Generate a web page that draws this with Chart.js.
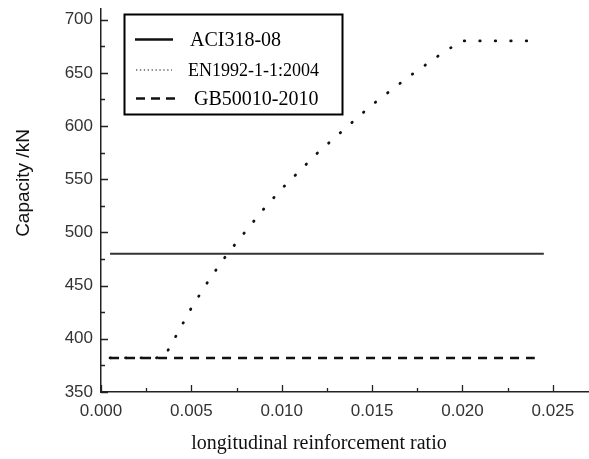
<!DOCTYPE html>
<html>
<head>
<meta charset="utf-8">
<title>Capacity vs longitudinal reinforcement ratio</title>
<script src="https://cdn.jsdelivr.net/npm/chart.js@4.4.1/dist/chart.umd.min.js"></script>
<style>
  html, body { margin: 0; padding: 0; background: #fff; }
  #chart { display: block; }
</style>
</head>
<body>
<canvas id="chart" width="589" height="459"></canvas>
<script>
// valores
const ratioACI = [0.0005, 0.0245];
const capACI = [480, 480];

const ratioEN = [0.0005, 0.001, 0.0015, 0.002, 0.0025, 0.003, 0.0035, 0.004,
                 0.005, 0.006, 0.007, 0.008, 0.009, 0.010, 0.011, 0.012, 0.013,
                 0.014, 0.015, 0.016, 0.017, 0.018, 0.019, 0.020, 0.021, 0.022,
                 0.023, 0.024];
const capEN = [382, 382, 382, 382, 382, 382, 383, 398,
               429, 456, 480, 501, 522, 541, 558, 575, 590,
               605, 620, 633, 646, 658, 670, 680, 680, 680,
               680, 680];

const ratioGB = [0.0005, 0.024];
const capGB = [382, 382];

const seriesNames = ['ACI318-08', 'EN1992-1-1:2004', 'GB50010-2010'];

// ticks dos eixos
const xTicks = [0, 0.005, 0.010, 0.015, 0.020, 0.025];
const xMinorTicks = [0.0025, 0.0075, 0.0125, 0.0175, 0.0225];
const yTicks = [350, 400, 450, 500, 550, 600, 650, 700];
const yMinorTicks = [375, 425, 475, 525, 575, 625, 675];

const xTitle = 'longitudinal reinforcement ratio';
const yTitle = 'Capacity /kN';

function toPoints(xs, ys) {
    return xs.map((x, i) => ({ x: x, y: ys[i] }));
}

// desenha ticks internos, títulos e a caixa de legenda
const extrasPlugin = {
    id: 'extras',
    afterDraw(chart) {
        const ctx = chart.ctx;
        const xs = chart.scales.x;
        const ys = chart.scales.y;
        const area = chart.chartArea;

        ctx.save();
        ctx.strokeStyle = '#222';
        ctx.lineWidth = 1.3;
        ctx.beginPath();
        yTicks.forEach(v => {
            const py = Math.round(ys.getPixelForValue(v)) + 0.5;
            ctx.moveTo(area.left, py); ctx.lineTo(area.left + 7, py);
        });
        yMinorTicks.forEach(v => {
            const py = Math.round(ys.getPixelForValue(v)) + 0.5;
            ctx.moveTo(area.left, py); ctx.lineTo(area.left + 4, py);
        });
        xTicks.forEach(v => {
            const px = Math.round(xs.getPixelForValue(v)) + 0.5;
            ctx.moveTo(px, area.bottom); ctx.lineTo(px, area.bottom - 7);
        });
        xMinorTicks.forEach(v => {
            const px = Math.round(xs.getPixelForValue(v)) + 0.5;
            ctx.moveTo(px, area.bottom); ctx.lineTo(px, area.bottom - 4);
        });
        ctx.stroke();

        // títulos
        ctx.fillStyle = '#111';
        ctx.textAlign = 'center';
        ctx.textBaseline = 'middle';
        ctx.font = '20px "Liberation Serif", "Times New Roman", serif';
        ctx.fillText(xTitle, 319, 444);

        ctx.save();
        ctx.translate(24, 183);
        ctx.rotate(-Math.PI / 2);
        ctx.font = '19px "Liberation Sans", Arial, sans-serif';
        ctx.fillText(yTitle, 0, 0);
        ctx.restore();

        // legenda
        ctx.fillStyle = '#fff';
        ctx.fillRect(124, 14, 219, 101);
        ctx.strokeStyle = '#000';
        ctx.lineWidth = 2;
        ctx.strokeRect(124.5, 14.5, 218, 100);

        ctx.strokeStyle = '#111';
        ctx.lineWidth = 2.6;
        ctx.setLineDash([]);
        ctx.beginPath(); ctx.moveTo(135, 39.5); ctx.lineTo(173, 39.5); ctx.stroke();

        ctx.lineWidth = 1.2;
        ctx.setLineDash([1.3, 2.6]);
        ctx.beginPath(); ctx.moveTo(136, 70); ctx.lineTo(172, 70); ctx.stroke();

        ctx.lineWidth = 2.6;
        ctx.setLineDash([9, 6]);
        ctx.beginPath(); ctx.moveTo(136, 98.5); ctx.lineTo(175, 98.5); ctx.stroke();
        ctx.setLineDash([]);

        ctx.fillStyle = '#000';
        ctx.textAlign = 'left';
        ctx.font = '20px "Liberation Serif", "Times New Roman", serif';
        ctx.fillText(seriesNames[0], 190, 41);
        ctx.font = '18px "Liberation Serif", "Times New Roman", serif';
        ctx.fillText(seriesNames[1], 188, 71);
        ctx.font = '20px "Liberation Serif", "Times New Roman", serif';
        ctx.fillText(seriesNames[2], 194, 100);
        ctx.restore();
    }
};

const tickFont = { family: '"Liberation Sans", Arial, sans-serif', size: 17 };

const config = {
    type: 'line',
    data: {
        datasets: [
            {
                label: seriesNames[0],
                data: toPoints(ratioACI, capACI),
                borderColor: '#333',
                borderWidth: 2,
                pointRadius: 0
            },
            {
                label: seriesNames[1],
                data: toPoints(ratioEN, capEN),
                borderColor: '#111',
                borderWidth: 2.8,
                borderDash: [0.5, 15],
                borderCapStyle: 'round',
                pointRadius: 0
            },
            {
                label: seriesNames[2],
                data: toPoints(ratioGB, capGB),
                borderColor: '#111',
                borderWidth: 2.5,
                borderDash: [9, 7],
                pointRadius: 0
            }
        ]
    },
    options: {
        responsive: false,
        devicePixelRatio: 1,
        animation: false,
        layout: { padding: { top: 9, right: 0, left: 0, bottom: 0 } },
        plugins: {
            legend: { display: false },
            tooltip: { enabled: false }
        },
        scales: {
            x: {
                type: 'linear',
                min: 0,
                max: 0.027,
                afterBuildTicks: s => { s.ticks = xTicks.map(v => ({ value: v })); },
                afterFit: s => { s.height = 67; s.paddingLeft = 0; s.paddingRight = 0; },
                ticks: {
                    callback: v => v.toFixed(3),
                    font: tickFont,
                    color: '#333',
                    padding: 9,
                    maxRotation: 0,
                    autoSkip: false
                },
                grid: { display: false, drawTicks: false },
                border: { display: true, color: '#222', width: 1.5 }
            },
            y: {
                min: 350,
                max: 710,
                afterBuildTicks: s => { s.ticks = yTicks.map(v => ({ value: v })); },
                afterFit: s => { s.width = 101; s.paddingTop = 0; s.paddingBottom = 0; },
                ticks: {
                    callback: v => String(v),
                    font: tickFont,
                    color: '#333',
                    padding: 8,
                    autoSkip: false
                },
                grid: { display: false, drawTicks: false },
                border: { display: true, color: '#222', width: 1.5 }
            }
        }
    },
    plugins: [extrasPlugin]
};

new Chart(document.getElementById('chart'), config);
</script>
</body>
</html>
